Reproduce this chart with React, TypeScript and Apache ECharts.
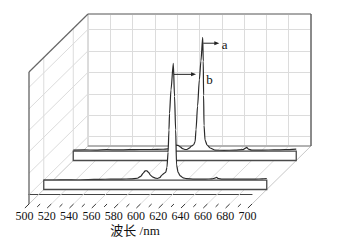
import React, { useEffect, useRef } from "react";
import * as echarts from "echarts";

// ---- data ----
const WAVELENGTH_MIN = 500;
const WAVELENGTH_MAX = 700;
const WAVELENGTH_STEP = 20;
const MINOR_STEP = 10;
const Z_MIN = -0.433;
const Z_MAX = 5.715;
const Z_GRID = [0, 1, 2, 3, 4, 5];
const DEPTH_B = 0.25;
const DEPTH_A = 0.75;

const spectrumA: [number, number][] = [
  [500, 0.05], [510, 0.06], [520, 0.05], [530, 0.07], [540, 0.06], [550, 0.07],
  [560, 0.08], [570, 0.08], [580, 0.09], [585, 0.11], [588, 0.16], [590.5, 0.25],
  [592.5, 0.28], [594, 0.27], [596, 0.2], [598, 0.12], [600, 0.08], [602, 0.08],
  [604, 0.14], [606, 0.24], [608, 0.3], [609.3, 0.45], [610.1, 1.0], [611.5, 2.1],
  [613.1, 3.33], [614.5, 4.2], [616.1, 5.3], [616.6, 4.2], [616.9, 2.6], [617.3, 1.2],
  [618.2, 0.52], [620, 0.29], [622.7, 0.15], [627, 0.05], [635, 0.04], [645, 0.05],
  [652, 0.07], [654.5, 0.14], [655.5, 0.18], [657, 0.1], [660, 0.05], [670, 0.05],
  [680, 0.06], [690, 0.07], [700, 0.1],
];

const spectrumB: [number, number][] = [
  [500, 0.0], [510, 0.01], [520, 0.02], [530, 0.01], [540, 0.03], [550, 0.04],
  [560, 0.05], [570, 0.05], [578, 0.06], [584, 0.09], [587, 0.18], [589, 0.32],
  [591, 0.43], [592.5, 0.44], [594, 0.36], [596, 0.22], [598, 0.14], [600, 0.1],
  [602, 0.08], [604, 0.12], [606, 0.24], [608, 0.32], [609.5, 0.38], [610.5, 0.6],
  [611.5, 1.3], [612.3, 2.34], [612.8, 3.1], [614.1, 4.2], [616.2, 5.44], [617.3, 3.9],
  [618.3, 2.34], [619.1, 0.71], [620.5, 0.36], [622.5, 0.2], [625, 0.11], [628, 0.07],
  [635, 0.05], [645, 0.05], [651, 0.06], [653.5, 0.1], [655, 0.13], [656.5, 0.08],
  [660, 0.05], [670, 0.05], [680, 0.05], [690, 0.05], [696, 0.06], [700, 0.08],
];

const arrowA: [number, number][] = [[616.6, 5.03], [631.0, 5.03]];
const labelA: [number, number] = [635.7, 4.95];
const arrowB: [number, number][] = [[616.8, 4.93], [636.6, 4.93]];
const labelB: [number, number] = [648.7, 4.71];

// ---- layout ----
const FRONT = { left: 29, top: 72, width: 223, height: 132 };
const DEPTH_DX = 59;
const DEPTH_DY = -58;
const SERIF = '"Liberation Serif", "Times New Roman", serif';
const GRID_LINE = "#dcdcdc";

function gridAt(d: number) {
  return {
    left: FRONT.left + DEPTH_DX * d,
    top: FRONT.top + DEPTH_DY * d,
    width: FRONT.width,
    height: FRONT.height,
    outerBoundsMode: "none",
    containLabel: false,
  };
}

function hiddenX(i: number) {
  return { type: "value", gridIndex: i, min: WAVELENGTH_MIN, max: WAVELENGTH_MAX, show: false };
}
function hiddenY(i: number) {
  return { type: "value", gridIndex: i, min: Z_MIN, max: Z_MAX, show: false };
}

function planeDecor(arrow: [number, number][], label: [number, number], text: string) {
  return (params: any, api: any) => {
    const p1 = api.coord([WAVELENGTH_MIN, Z_MIN]);
    const p2 = api.coord([WAVELENGTH_MAX, 0]);
    const a0 = api.coord(arrow[0]);
    const a1 = api.coord(arrow[1]);
    const lp = api.coord(label);
    return {
      type: "group",
      children: [
        {
          type: "rect",
          shape: { x: p1[0], y: p2[1], width: p2[0] - p1[0], height: p1[1] - p2[1] },
          style: { fill: "#fff", stroke: "#4a4a4a", lineWidth: 1.3 },
        },
        {
          type: "line",
          shape: { x1: a0[0], y1: a0[1], x2: a1[0] - 3, y2: a1[1] },
          style: { stroke: "#222", lineWidth: 1 },
        },
        {
          type: "polygon",
          shape: { points: [[a1[0], a1[1]], [a1[0] - 5, a1[1] - 2], [a1[0] - 5, a1[1] + 2]] },
          style: { fill: "#222" },
        },
        {
          type: "text",
          x: lp[0],
          y: lp[1],
          style: { text, fill: "#111", fontSize: 13, fontFamily: SERIF, align: "center", verticalAlign: "middle" },
        },
      ],
    };
  };
}

function frameRender(params: any, api: any) {
  const P = (nm: number, z: number, d: number) => {
    const c = api.coord([nm, z]);
    return [c[0] + DEPTH_DX * d, c[1] + DEPTH_DY * d];
  };
  const children: any[] = [];
  const seg = (a: number[], b: number[], stroke: string, lw: number) =>
    children.push({ type: "line", shape: { x1: a[0], y1: a[1], x2: b[0], y2: b[1] }, style: { stroke, lineWidth: lw } });

  // left wall grid
  Z_GRID.forEach((z) => seg(P(WAVELENGTH_MIN, z, 0), P(WAVELENGTH_MIN, z, 1), GRID_LINE, 1));
  [DEPTH_B, DEPTH_A].forEach((d) => seg(P(WAVELENGTH_MIN, Z_MIN, d), P(WAVELENGTH_MIN, Z_MAX, d), GRID_LINE, 1));
  // floor grid
  for (let nm = WAVELENGTH_MIN + WAVELENGTH_STEP; nm < WAVELENGTH_MAX; nm += WAVELENGTH_STEP) {
    seg(P(nm, Z_MIN, 0), P(nm, Z_MIN, 1), GRID_LINE, 1);
  }
  // box edges
  seg(P(WAVELENGTH_MIN, Z_MIN, 0), P(WAVELENGTH_MIN, Z_MIN, 1), "#c8c8c8", 1);
  seg(P(WAVELENGTH_MAX, Z_MIN, 0), P(WAVELENGTH_MAX, Z_MIN, 1), "#c8c8c8", 1);
  seg(P(WAVELENGTH_MIN, Z_MIN, 1), P(WAVELENGTH_MAX, Z_MIN, 1), "#8a8a8a", 1);
  seg(P(WAVELENGTH_MIN, Z_MIN, 0), P(WAVELENGTH_MIN, Z_MAX, 0), "#555", 1.2);
  seg(P(WAVELENGTH_MIN, Z_MAX, 0), P(WAVELENGTH_MIN, Z_MAX, 1), "#666", 1.2);
  seg(P(WAVELENGTH_MIN, Z_MAX, 1), P(WAVELENGTH_MAX, Z_MAX, 1), "#777", 1.2);
  seg(P(WAVELENGTH_MAX, Z_MAX, 1), P(WAVELENGTH_MAX, Z_MIN, 1), "#555", 1.2);
  // slanted ticks
  for (let nm = WAVELENGTH_MIN; nm <= WAVELENGTH_MAX; nm += MINOR_STEP) {
    const major = (nm - WAVELENGTH_MIN) % WAVELENGTH_STEP === 0;
    seg(P(nm, Z_MIN, 0), P(nm, Z_MIN, major ? -0.07 : -0.05), "#333", 1);
  }
  return { type: "group", children };
}

export default function App() {
  const ref = useRef<HTMLDivElement>(null);
  useEffect(() => {
    if (!ref.current) return;
    const chart = echarts.init(ref.current, undefined, { renderer: "svg" });
    chart.setOption({
      animation: false,
      backgroundColor: "#fff",
      grid: [
        gridAt(0),
        gridAt(DEPTH_B),
        gridAt(DEPTH_A),
        { ...gridAt(1), show: true, backgroundColor: "#fff", borderColor: "#b8b8b8", borderWidth: 1 },
      ],
      xAxis: [
        {
          type: "value",
          gridIndex: 0,
          min: WAVELENGTH_MIN,
          max: WAVELENGTH_MAX,
          interval: WAVELENGTH_STEP,
          axisLine: { show: true, lineStyle: { color: "#444", width: 1.2 } },
          axisTick: { show: false },
          splitLine: { show: false },
          axisLabel: {
            interval: 0,
            margin: 6,
            padding: [0, 9, 0, 0],
            color: "#111",
            fontSize: 12,
            fontFamily: SERIF,
          },
          name: "波长 /nm",
          nameLocation: "middle",
          nameGap: 20,
          nameMoveOverlap: false,
          nameTextStyle: {
            color: "#111",
            fontSize: 13,
            fontFamily: '"Liberation Serif", "Noto Sans CJK SC", serif',
            padding: [0, 11, 0, 0],
          },
        },
        hiddenX(1),
        hiddenX(2),
        {
          type: "value",
          gridIndex: 3,
          min: WAVELENGTH_MIN,
          max: WAVELENGTH_MAX,
          interval: WAVELENGTH_STEP,
          axisLine: { show: false },
          axisTick: { show: false },
          axisLabel: { show: false },
          splitLine: { show: true, showMinLine: false, showMaxLine: false, lineStyle: { color: GRID_LINE, width: 1 } },
        },
      ],
      yAxis: [
        hiddenY(0),
        hiddenY(1),
        hiddenY(2),
        {
          type: "value",
          gridIndex: 3,
          min: Z_MIN,
          max: Z_MAX,
          splitNumber: 6,
          minInterval: 1,
          maxInterval: 1,
          axisLine: { show: false },
          axisTick: { show: false },
          axisLabel: { show: false },
          splitLine: { show: true, showMinLine: false, showMaxLine: false, lineStyle: { color: GRID_LINE, width: 1 } },
        },
      ],
      series: [
        {
          type: "custom",
          name: "frame",
          xAxisIndex: 0,
          yAxisIndex: 0,
          z: 2,
          silent: true,
          clip: false,
          data: [[WAVELENGTH_MIN, Z_MIN]],
          renderItem: frameRender,
        },
        {
          type: "line",
          name: "a",
          xAxisIndex: 2,
          yAxisIndex: 2,
          z: 3,
          silent: true,
          showSymbol: false,
          smooth: 0.25,
          smoothMonotone: "x",
          data: spectrumA,
          lineStyle: { color: "#2a2a2a", width: 1.2 },
          areaStyle: { color: "#fff", opacity: 1, origin: "start" },
        },
        {
          type: "custom",
          name: "a-decor",
          xAxisIndex: 2,
          yAxisIndex: 2,
          z: 4,
          silent: true,
          clip: false,
          data: [[WAVELENGTH_MIN, 0]],
          renderItem: planeDecor(arrowA, labelA, "a"),
        },
        {
          type: "line",
          name: "b",
          xAxisIndex: 1,
          yAxisIndex: 1,
          z: 5,
          silent: true,
          showSymbol: false,
          smooth: 0.25,
          smoothMonotone: "x",
          data: spectrumB,
          lineStyle: { color: "#2a2a2a", width: 1.2 },
          areaStyle: { color: "#fff", opacity: 1, origin: "start" },
        },
        {
          type: "custom",
          name: "b-decor",
          xAxisIndex: 1,
          yAxisIndex: 1,
          z: 6,
          silent: true,
          clip: false,
          data: [[WAVELENGTH_MIN, 0]],
          renderItem: planeDecor(arrowB, labelB, "b"),
        },
      ],
    });
    return () => chart.dispose();
  }, []);
  return (
    <div
      ref={ref}
      style={{ position: "absolute", left: 0, top: 0, width: 347, height: 240 }}
    />
  );
}
